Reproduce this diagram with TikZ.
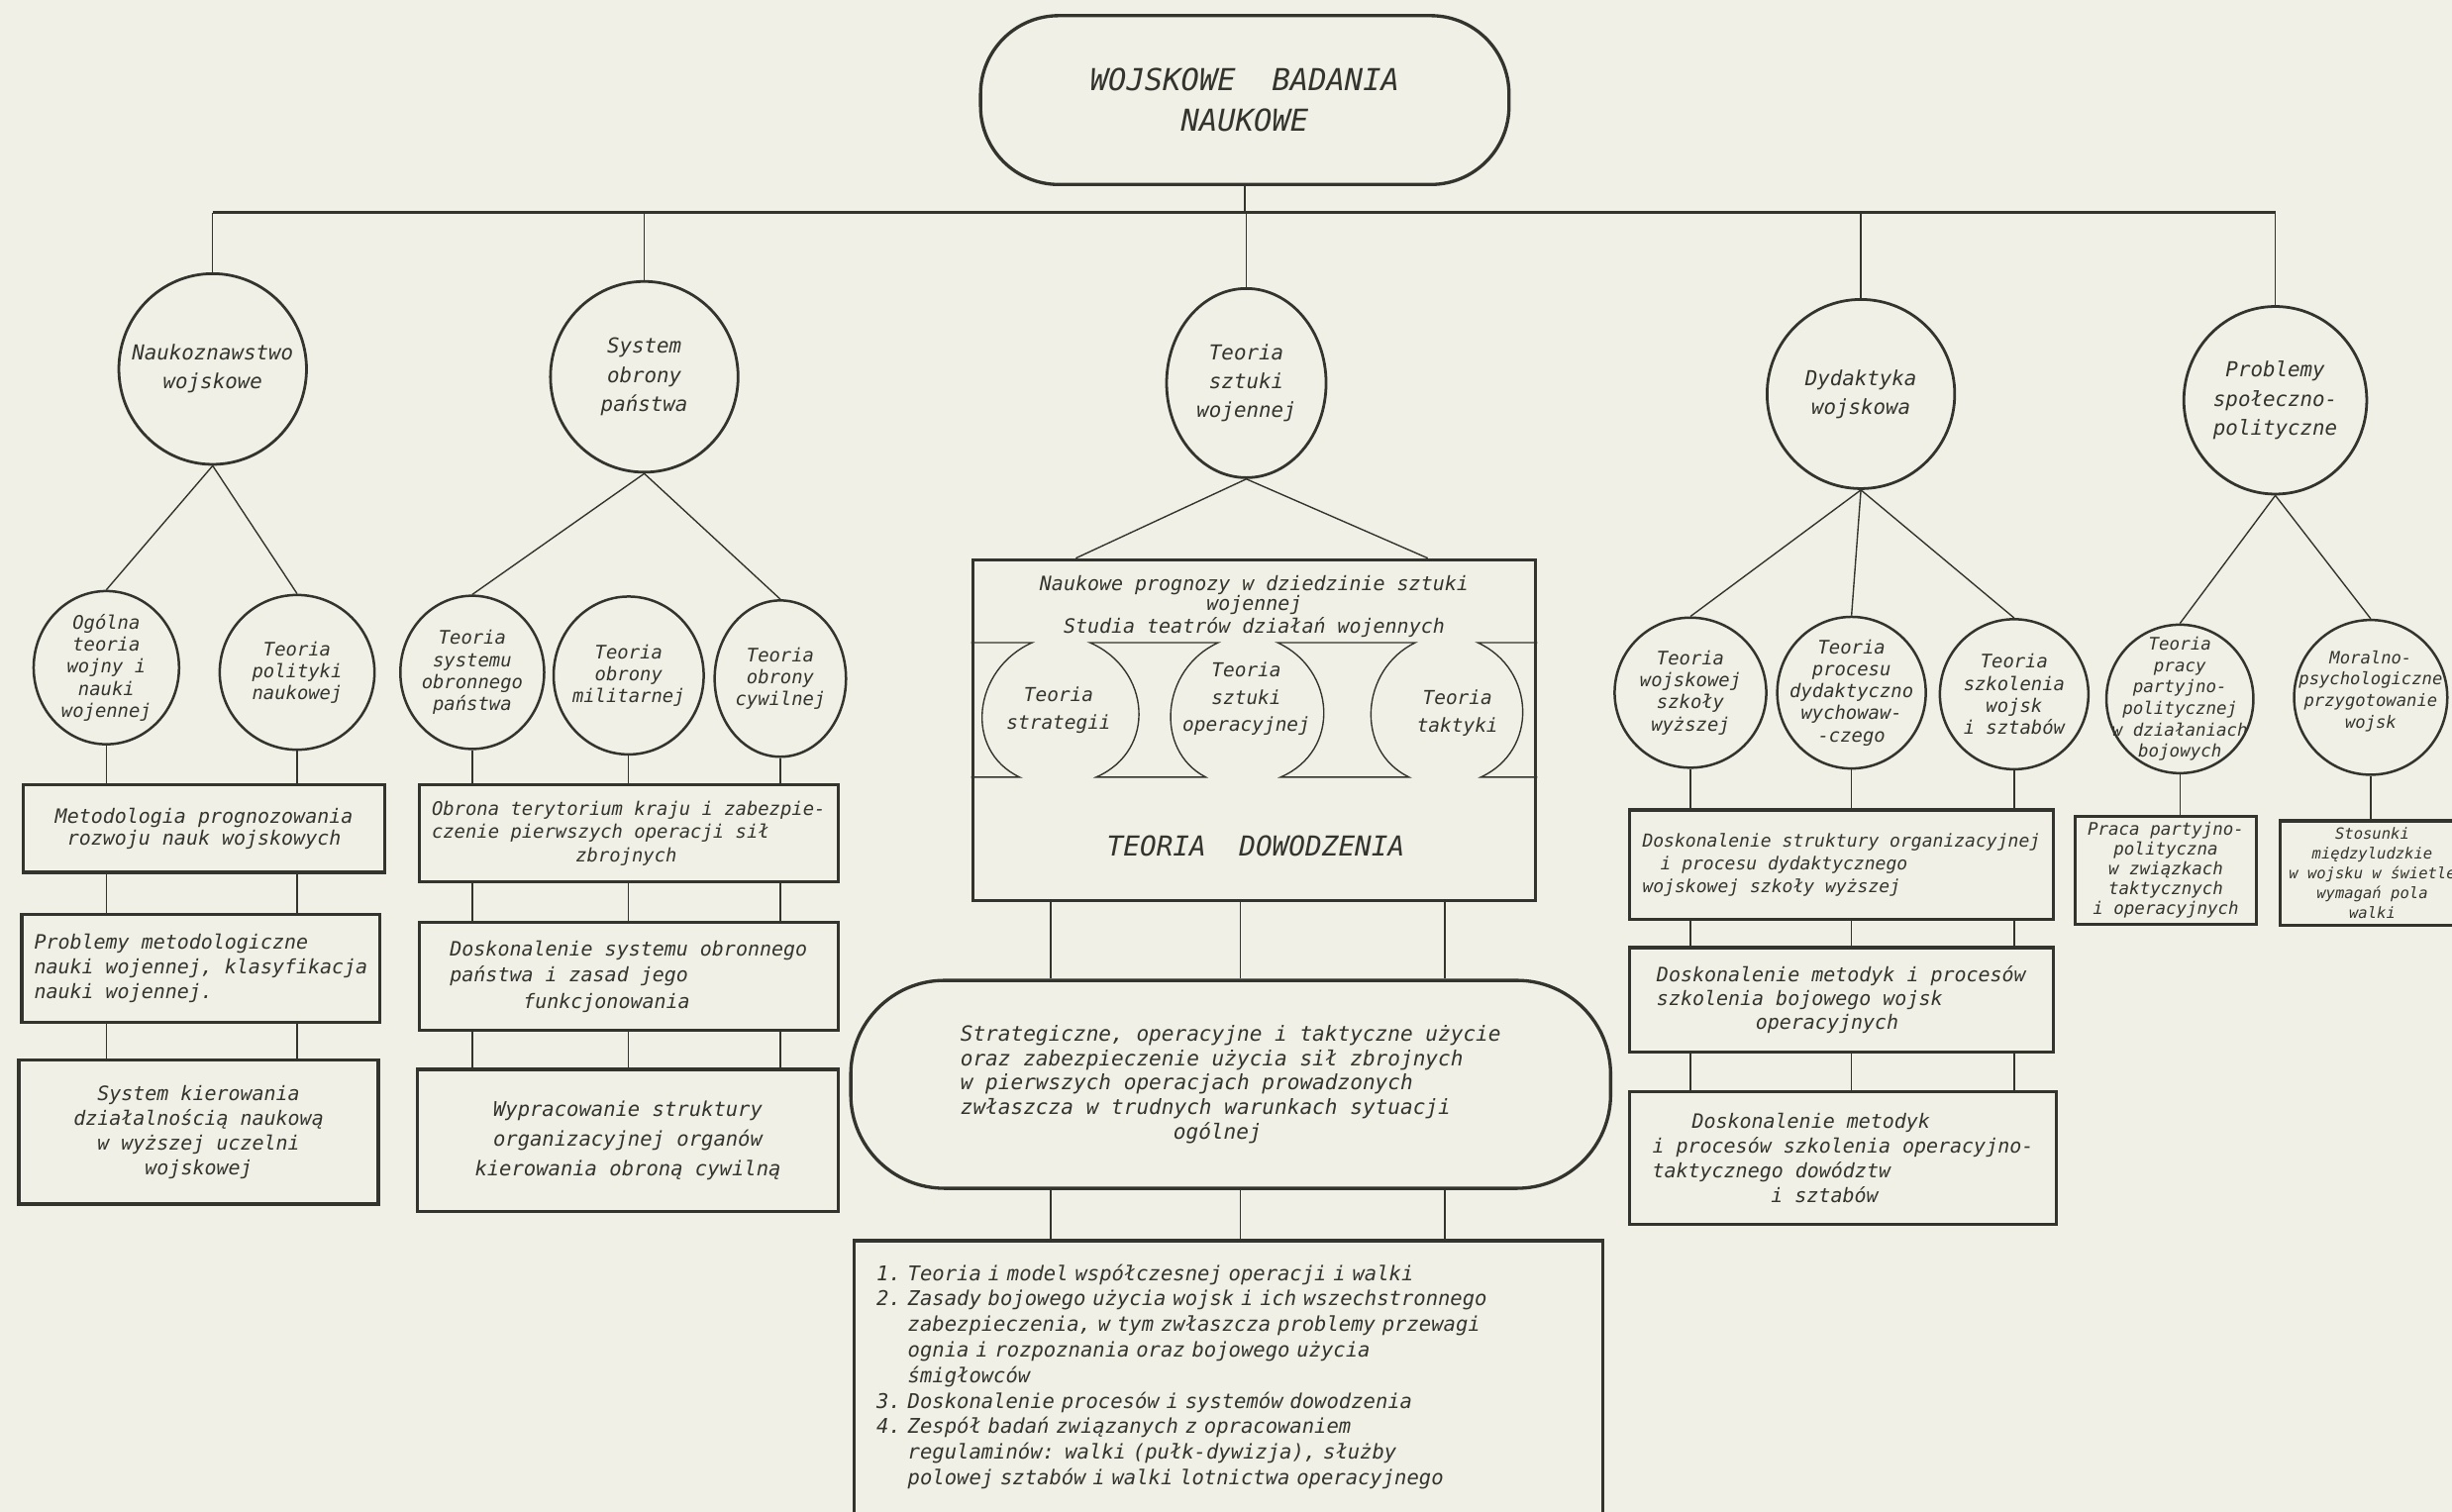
\documentclass[tikz,border=0pt]{standalone}
\usepackage{fontspec}
\newfontfamily\letterfam{DejaVu Sans Mono}
\newcommand\lett[2]{\letterfam\itshape\fontsize{#1}{#2}\selectfont}
\usetikzlibrary{shapes.geometric}
\definecolor{paper}{RGB}{241,240,231}
\definecolor{ink}{RGB}{52,52,46}

\begin{document}
\begin{tikzpicture}[x=0.02cm,y=-0.02cm,color=ink,line width=0.5pt,
    headbox/.style={draw,rectangle,rounded corners=1cm,line width=1.2pt,
      minimum width=6.76cm,minimum height=2.16cm,align=center,font=\lett{11}{15}},
    bigc/.style={draw,ellipse,line width=1pt,inner sep=0pt},
    smallc/.style={draw,ellipse,line width=0.9pt,inner sep=0pt},
    btxt/.style={align=center,inner sep=0pt,font=\lett{7.5}{10.5}},
    stxt/.style={align=center,inner sep=0pt,font=\lett{6.8}{8}},
    panel/.style={draw,rectangle,line width=1.2pt,inner sep=2pt,align=center,font=\lett{7.2}{9}},
    band/.style={align=center,inner sep=0pt,font=\lett{7}{10}}]

  \fill[paper] (0,0) rectangle (1568,967);
  \useasboundingbox (0,0) rectangle (1568,967);

  \node[headbox] (top) at (796,64) {WOJSKOWE\ \ BADANIA\\NAUKOWE};
  \coordinate (bus) at (796,136);

  \node[bigc,minimum width=2.4cm,minimum height=2.44cm] (n1) at (136,236) {};
  \node[btxt] (n1t) at (n1) {Naukoznawstwo\\wojskowe};
  \node[bigc,minimum width=2.4cm,minimum height=2.44cm] (n2) at (412,241) {};
  \node[btxt] (n2t) at (n2) {System\\obrony\\państwa};
  \node[bigc,minimum width=2.04cm,minimum height=2.42cm] (n3) at (797,245) {};
  \node[btxt] (n3t) at (n3) {Teoria\\sztuki\\wojennej};
  \node[bigc,minimum width=2.4cm,minimum height=2.42cm] (n4) at (1190,252) {};
  \node[btxt] (n4t) at (n4) {Dydaktyka\\wojskowa};
  \node[bigc,minimum width=2.34cm,minimum height=2.4cm] (n5) at (1455,256) {};
  \node[btxt] (n5t) at (n5) {Problemy\\społeczno-\\polityczne};

  \draw[line width=1.1pt] (n1.north |- bus) -- (n5.north |- bus);
  \draw (top.south) -- (bus);
  \draw (n1.north) -- (n1.north |- bus) (n2.north) -- (n2.north |- bus)
        (n3.north) -- (n3.north |- bus) (n4.north) -- (n4.north |- bus)
        (n5.north) -- (n5.north |- bus);

  \node[smallc,minimum width=1.86cm,minimum height=1.96cm] (a1) at (68,427) {};
  \node[stxt] (a1t) at (a1) {Ogólna\\teoria\\wojny i\\nauki\\wojennej};
  \node[smallc,minimum width=1.98cm,minimum height=1.98cm] (a2) at (190,430) {};
  \node[stxt] (a2t) at (a2) {Teoria\\polityki\\naukowej};
  \node[smallc,minimum width=1.84cm,minimum height=1.96cm] (b1) at (302,430) {};
  \node[stxt] (b1t) at (b1) {Teoria\\systemu\\obronnego\\państwa};
  \node[smallc,minimum width=1.92cm,minimum height=2.02cm] (b2) at (402,432) {};
  \node[stxt] (b2t) at (b2) {Teoria\\obrony\\militarnej};
  \node[smallc,minimum width=1.68cm,minimum height=2cm] (b3) at (499,434) {};
  \node[stxt] (b3t) at (b3) {Teoria\\obrony\\cywilnej};

  \node[smallc,minimum width=1.94cm,minimum height=1.92cm] (d1) at (1081,443) {};
  \node[stxt] (d1t) at (d1) {Teoria\\wojskowej\\szkoły\\wyższej};
  \node[smallc,minimum width=1.9cm,minimum height=1.94cm] (d2) at (1184,443) {};
  \node[stxt] (d2t) at (d2) {Teoria\\procesu\\dydaktyczno\\wychowaw-\\-czego};
  \node[smallc,minimum width=1.9cm,minimum height=1.92cm] (d3) at (1288,444) {};
  \node[stxt] (d3t) at (d3) {Teoria\\szkolenia\\wojsk\\i sztabów};
  \node[smallc,minimum width=1.88cm,minimum height=1.9cm] (e1) at (1394,447) {};
  \node[stxt,font=\lett{6.3}{7.8}] (e1t) at (e1) {Teoria\\pracy\\partyjno-\\politycznej\\w działaniach\\bojowych};
  \node[smallc,minimum width=1.96cm,minimum height=1.98cm] (e2) at (1516,446) {};
  \node[stxt,font=\lett{6.2}{7.8}] (e2t) at (1516,442) {Moralno-\\psychologiczne\\przygotowanie\\wojsk};

  \node[panel,minimum width=4.62cm,minimum height=1.12cm,font=\lett{7.2}{7.8}] (L1) at (130.5,530)
    {Metodologia prognozowania\\rozwoju nauk wojskowych};
  \node[panel,minimum width=4.58cm,minimum height=1.38cm,align=left] (L2) at (128.5,619.5)
    {Problemy metodologiczne\\nauki wojennej, klasyfikacja\\nauki wojennej.};
  \node[panel,minimum width=4.6cm,minimum height=1.84cm] (L3) at (127,724)
    {System kierowania\\działalnością naukową\\w wyższej uczelni\\wojskowej};

  \node[panel,minimum width=5.36cm,minimum height=1.24cm,align=left,font=\lett{6.8}{8.4}] (M1) at (402,533)
    {Obrona terytorium kraju i zabezpie-\\czenie pierwszych operacji sił\\\hspace*{7.7em}zbrojnych};
  \node[panel,minimum width=5.36cm,minimum height=1.38cm,align=left,font=\lett{7.2}{9.6}] (M2) at (402,624.5)
    {Doskonalenie systemu obronnego\\państwa i zasad jego\\\hspace*{3.7em}funkcjonowania};
  \node[panel,minimum width=5.38cm,minimum height=1.82cm,font=\lett{7.4}{10.8}] (M3) at (401.5,729.5)
    {Wypracowanie struktury\\organizacyjnej organów\\kierowania obroną cywilną};

  \node[panel,minimum width=7.2cm,minimum height=4.36cm] (cbox) at (802,467) {};
  \node[align=center,inner sep=0pt,font=\lett{7.2}{7.2}] (prog) at (802,388)
    {Naukowe prognozy w dziedzinie sztuki\\wojennej\\Studia teatrów działań wojennych};
  \draw (cbox.west |- 0,411) -- (660,411) .. controls (622,428) and (616,480) .. (652,497) -- (cbox.west |- 0,497);
  \draw (697,411) .. controls (736,428) and (740,480) .. (701,497) -- (771,497)
        .. controls (738,480) and (742,428) .. (779,411) -- cycle;
  \draw (817,411) .. controls (854,428) and (858,480) .. (819,497) -- (901,497)
        .. controls (866,480) and (870,428) .. (905,411) -- cycle;
  \draw (cbox.east |- 0,411) -- (945,411) .. controls (982,428) and (984,480) .. (947,497) -- (cbox.east |- 0,497);
  \node[band] (str) at (677,454) {Teoria\\strategii};
  \node[band] (ops) at (797,447) {Teoria\\sztuki\\operacyjnej};
  \node[band] (tak) at (932,456) {Teoria\\taktyki};
  \node[inner sep=0pt,font=\lett{10}{12}] (dow) at (803,541) {TEORIA\ \ DOWODZENIA};

  \node[panel,rounded corners=1.2cm,minimum width=9.72cm,minimum height=2.66cm,align=left,font=\lett{7.6}{8.9}] (rbox) at (787,693.5)
    {Strategiczne, operacyjne i taktyczne użycie\\oraz zabezpieczenie użycia sił zbrojnych\\w pierwszych operacjach prowadzonych\\zwłaszcza w trudnych warunkach sytuacji\\\hspace*{10.2em}ogólnej};

  \node[panel,minimum width=9.58cm,minimum height=3.36cm,text width=9cm,inner sep=0.28cm,align=left,font=\lett{7.4}{9.3}] (ebox) at (785.5,881)
    {\begin{tabular}{@{}l@{\ }l@{}}
      1. & Teoria i model współczesnej operacji i walki\\
      2. & Zasady bojowego użycia wojsk i ich wszechstronnego\\
         & zabezpieczenia, w tym zwłaszcza problemy przewagi\\
         & ognia i rozpoznania oraz bojowego użycia\\
         & śmigłowców\\
      3. & Doskonalenie procesów i systemów dowodzenia\\
      4. & Zespół badań związanych z opracowaniem\\
         & regulaminów: walki (pułk-dywizja), służby\\
         & polowej sztabów i walki lotnictwa operacyjnego
    \end{tabular}};

  \node[panel,minimum width=5.42cm,minimum height=1.4cm,align=left,font=\lett{6.5}{8.3}] (R1) at (1177.5,553)
    {Doskonalenie struktury organizacyjnej\\\hspace*{1em}i procesu dydaktycznego\\wojskowej szkoły wyższej};
  \node[panel,minimum width=5.42cm,minimum height=1.34cm,align=left,font=\lett{7.2}{8.6}] (R2) at (1177.5,639.5)
    {Doskonalenie metodyk i procesów\\szkolenia bojowego wojsk\\\hspace*{5em}operacyjnych};
  \node[panel,minimum width=5.46cm,minimum height=1.7cm,align=left,font=\lett{7.2}{9}] (R3) at (1178.5,740.5)
    {\hspace*{2em}Doskonalenie metodyk\\i procesów szkolenia operacyjno-\\taktycznego dowództw\\\hspace*{6em}i sztabów};
  \node[panel,minimum width=2.32cm,minimum height=1.38cm,font=\lett{6.3}{7.2}] (pp) at (1385,556.5)
    {Praca partyjno-\\polityczna\\w związkach\\taktycznych\\i operacyjnych};
  \node[panel,minimum width=2.36cm,minimum height=1.34cm,inner sep=1pt,font=\lett{5.6}{7.2}] (st) at (1517,558.5)
    {Stosunki\\międzyludzkie\\w wojsku w świetle\\wymagań pola\\walki};

  \draw (n1.south) -- (a1.north) (n1.south) -- (a2.north);
  \draw (n2.south) -- (b1.north) (n2.south) -- (b3.north);
  \draw (n3.south) -- (688,0 |- cbox.north) (n3.south) -- (913,0 |- cbox.north);
  \draw (n4.south) -- (d1.north) (n4.south) -- (d2.north) (n4.south) -- (d3.north);
  \draw (n5.south) -- (e1.north) (n5.south) -- (e2.north);

  \foreach \c in {a1,a2}
    \draw (\c.south) -- (\c.south |- L1.north) (L1.south -| \c) -- (L2.north -| \c)
          (L2.south -| \c) -- (L3.north -| \c);
  \foreach \c in {b1,b2,b3}
    \draw (\c.south) -- (\c.south |- M1.north) (M1.south -| \c) -- (M2.north -| \c)
          (M2.south -| \c) -- (M3.north -| \c);
  \foreach \c in {d1,d2,d3}
    \draw (\c.south) -- (\c.south |- R1.north) (R1.south -| \c) -- (R2.north -| \c)
          (R2.south -| \c) -- (R3.north -| \c);
  \draw (e1.south) -- (e1.south |- pp.north) (e2.south) -- (e2.south |- st.north);
  \foreach \x in {672,793,924}
    \draw (\x,0 |- cbox.south) -- (\x,0 |- rbox.north) (\x,0 |- rbox.south) -- (\x,0 |- ebox.north);
\end{tikzpicture}
\end{document}
